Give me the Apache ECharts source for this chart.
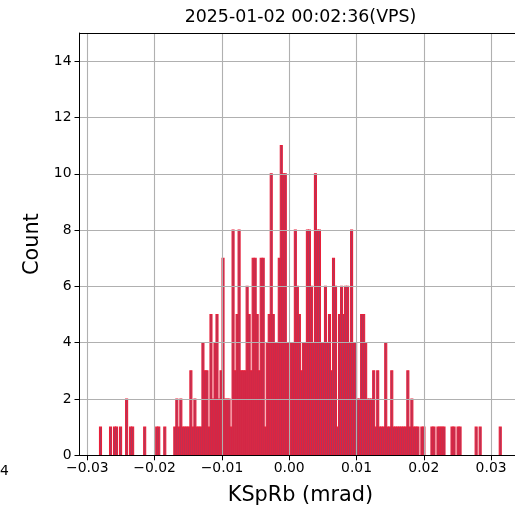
<!DOCTYPE html>
<html><head><meta charset="utf-8">
<script src="https://cdn.jsdelivr.net/npm/echarts@6/dist/echarts.min.js"></script>
<style>html,body{margin:0;padding:0;background:#fff;overflow:hidden}#c{width:515px;height:508px}</style>
</head><body><div id="c"></div>
<script>
// Histogram definition: 200 equal bins between binMin and binMax
const binMin = -0.0282;
const binMax = 0.03151;
const counts = [
  1,0,0,0,0,1,0,1,1,0, 1,0,0,2,0,1,1,0,0,0,
  0,0,1,0,0,0,0,0,1,1, 0,0,1,0,0,0,0,1,2,1,
  2,1,1,1,1,3,1,2,1,1, 1,4,3,3,1,5,2,4,5,2,
  3,7,2,2,2,1,8,3,5,8, 3,3,3,6,5,3,7,7,5,3,
  7,7,1,4,5,10,5,4,4,7, 11,10,10,4,4,4,4,8,6,5,
  3,4,4,8,8,6,4,10,8,8, 4,4,6,4,5,3,7,6,1,5,
  6,5,6,6,4,8,4,4,2,2, 5,5,4,2,2,2,3,1,3,1,
  1,1,4,1,1,3,1,1,1,1, 1,1,1,3,1,2,1,1,1,0,
  1,1,0,0,0,1,1,0,1,1, 1,1,0,0,0,1,1,0,1,1,
  0,0,0,0,0,0,0,1,0,1, 0,0,0,0,0,0,0,0,0,1
];
const xTicks = [-0.03, -0.02, -0.01, 0.0, 0.01, 0.02, 0.03];
const yTicks = [0, 2, 4, 6, 8, 10, 12, 14];
const xLimits = [-0.03117, 0.03449];
const yLimits = [0, 15];
const titleText = '2025-01-02 00:02:36(VPS)';
const xName = 'KSpRb (mrad)';
const yName = 'Count';

const nBins = counts.length;
const binW = (binMax - binMin) / nBins;
const histData = [];
counts.forEach((c, i) => {
  if (c > 0) histData.push([binMin + i * binW, binMin + (i + 1) * binW, c]);
});

const fmt = v => {
  const s = Math.abs(v).toFixed(2);
  return (v < -1e-12 ? '\u2212' : '') + s;
};

const font = 'DejaVu Sans';
const chart = echarts.init(document.getElementById('c'), null, {renderer: 'canvas'});
chart.setOption({
  animation: false,
  backgroundColor: '#fff',
  grid: {left: 79.5, top: 33, width: 441.8, height: 422.3, outerBoundsMode: 'none', containLabel: false, show: false},
  graphic: [
    {type: 'text', x: 300.5, y: 9, z: 10, style: {text: titleText, textAlign: 'center', fontSize: 17.4, fontFamily: font, fill: '#000'}},
    {type: 'text', x: 0, y: 464, z: 10, style: {text: '4', fontSize: 13.9, fontFamily: font, fill: '#000'}}
  ],
  xAxis: [{
    type: 'value', min: xLimits[0], max: xLimits[1], z: 5, position: 'bottom',
    axisLine: {show: true, onZero: false, lineStyle: {color: '#000', width: 1}},
    axisTick: {show: true, customValues: xTicks, length: 5, lineStyle: {color: '#000', width: 1}},
    axisLabel: {customValues: xTicks, formatter: fmt, color: '#000', fontSize: 13.9, fontFamily: font, margin: 6},
    splitLine: {show: true, lineStyle: {color: '#b0b0b0', width: 1.1}},
    name: xName, nameLocation: 'middle', nameGap: 30,
    nameTextStyle: {fontSize: 20.8, fontFamily: font, color: '#000'}
  }, {
    type: 'value', min: xLimits[0], max: xLimits[1], z: 5, position: 'top',
    axisLine: {show: true, onZero: false, lineStyle: {color: '#000', width: 1}},
    axisTick: {show: false}, axisLabel: {show: false}, splitLine: {show: false}
  }],
  yAxis: {
    type: 'value', min: yLimits[0], max: yLimits[1], interval: 2, z: 5,
    axisLine: {show: true, onZero: false, lineStyle: {color: '#000', width: 1}},
    axisTick: {show: true, length: 5, lineStyle: {color: '#000', width: 1}},
    axisLabel: {showMaxLabel: false, color: '#000', fontSize: 13.9, fontFamily: font, margin: 8,
      formatter: v => (yTicks.indexOf(v) >= 0 ? String(v) : '')},
    splitLine: {show: true, lineStyle: {color: '#b0b0b0', width: 1.1}},
    name: yName, nameLocation: 'middle', nameGap: 35,
    nameTextStyle: {fontSize: 20.8, fontFamily: font, color: '#000'}
  },
  series: [{
    type: 'custom',
    data: histData,
    encode: {x: [0, 1], y: 2},
    z: 2,
    renderItem: (params, api) => {
      const p0 = api.coord([api.value(0), api.value(2)]);
      const p1 = api.coord([api.value(1), 0]);
      return {
        type: 'rect',
        shape: {x: p0[0], y: p0[1], width: p1[0] - p0[0], height: p1[1] - p0[1]},
        style: {fill: '#a83a60', stroke: '#e8203a', lineWidth: 1.1}
      };
    }
  }]
});
</script></body></html>
